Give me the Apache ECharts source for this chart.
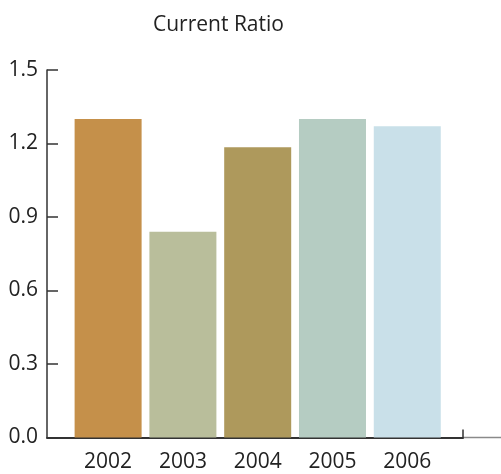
<!DOCTYPE html>
<html>
<head>
<meta charset="utf-8">
<script src="https://cdn.jsdelivr.net/npm/echarts@6/dist/echarts.min.js"></script>
<style>
  html, body { margin: 0; padding: 0; background: #fff; }
  #chart { width: 501px; height: 474px; }
</style>
</head>
<body>
<div id="chart"></div>
<script>
// Current ratio by fiscal year
const years = ['2002', '2003', '2004', '2005', '2006'];
const ratios = [1.30, 0.84, 1.185, 1.30, 1.27];
const barColors = ['#C5904A', '#B9BE9B', '#AE995C', '#B5CCC2', '#C9E0E9'];
const yTicks = [0, 0.3, 0.6, 0.9, 1.2, 1.5];

const FONT = '"Open Sans", "Noto Sans", sans-serif';
const X_MIN = -0.817;
const X_MAX = 4.745;

const chart = echarts.init(document.getElementById('chart'), null, { renderer: 'canvas' });

chart.setOption({
  animation: false,
  backgroundColor: '#ffffff',
  title: {
    text: 'Current Ratio',
    left: 148,
    top: 10,
    textStyle: { fontFamily: FONT, fontSize: 21, fontWeight: 'normal', color: '#222' }
  },
  grid: { left: 47, top: 70, width: 416, height: 367.5, containLabel: false },
  xAxis: {
    type: 'value',
    min: X_MIN,
    max: X_MAX,
    splitLine: { show: false },
    axisLine: { show: true, onZero: false, lineStyle: { color: '#333', width: 2 } },
    axisTick: {
      show: true,
      inside: true,
      length: 8,
      customValues: [X_MAX],
      lineStyle: { color: '#333', width: 1.5 }
    },
    axisLabel: {
      customValues: years.map((_, i) => i),
      formatter: v => years[Math.round(v)],
      margin: 14,
      fontFamily: FONT,
      fontSize: 21,
      color: '#222'
    }
  },
  yAxis: {
    type: 'value',
    min: yTicks[0],
    max: yTicks[yTicks.length - 1],
    interval: 0.3,
    splitLine: { show: false },
    axisLine: { show: true, onZero: false, lineStyle: { color: '#333', width: 1.5 } },
    axisTick: { show: true, inside: true, length: 11, lineStyle: { color: '#333', width: 1.5 } },
    axisLabel: {
      formatter: v => v.toFixed(1),
      margin: 9,
      fontFamily: FONT,
      fontSize: 21,
      color: '#222'
    }
  },
  series: [{
    type: 'bar',
    barWidth: 67,
    data: ratios.map((v, i) => ({ value: [i, v], itemStyle: { color: barColors[i] } }))
  }],
  graphic: [{
    type: 'line',
    shape: { x1: 463, y1: 437.5, x2: 501, y2: 437.5 },
    style: { stroke: '#8a8a8a', lineWidth: 1.5 },
    silent: true
  }]
});
</script>
</body>
</html>
